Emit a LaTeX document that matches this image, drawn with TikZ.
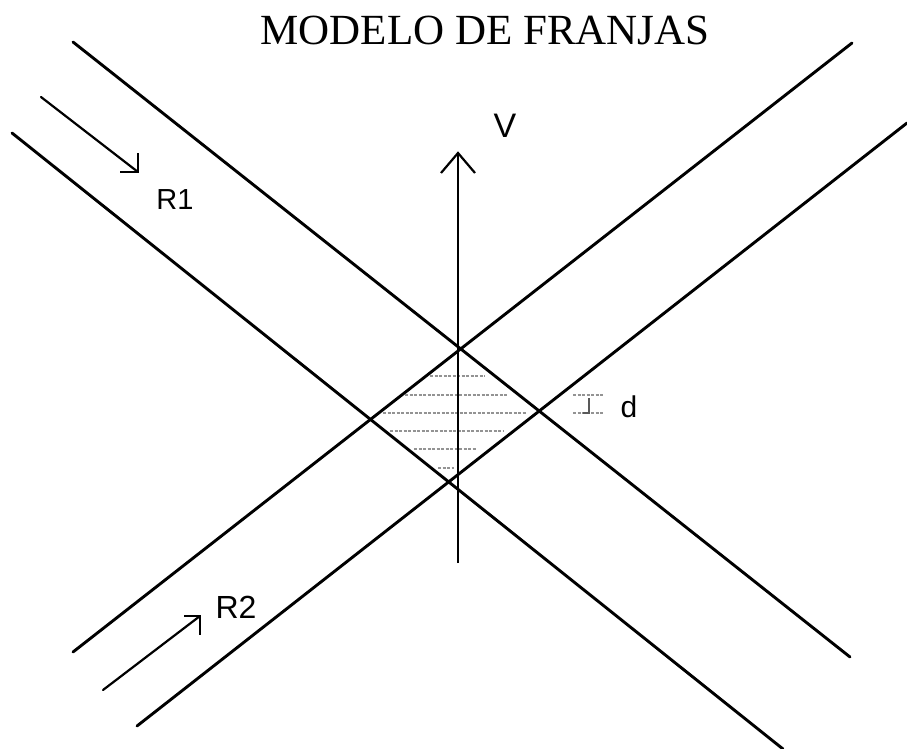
\documentclass[tikz,border=0pt]{standalone}
\usepackage{fontspec}
\setmainfont{Liberation Serif}
\newfontfamily\labfont{Liberation Sans}
\begin{document}
\begin{tikzpicture}[x=1pt,y=-1pt,
  band/.style={line width=2.9pt, line cap=round},
  axisline/.style={line width=2.2pt},
  hatch/.style={gray!85, line width=1.3pt, dash pattern=on 3pt off 1.5pt},
  lab/.style={font=\labfont\fontsize{30}{30}\selectfont, inner sep=0pt, anchor=base}]
\useasboundingbox (0,0) rectangle (907,749);
% title
\node[font=\fontsize{43}{43}\selectfont, inner sep=0pt, anchor=base] (title) at (485,45) {MODELO DE FRANJAS};
% band R1 (descending)
\coordinate (A1) at (73,42);  \coordinate (A2) at (850,657);
\coordinate (B1) at (12,133); \coordinate (B2) at (783,749);
% band R2 (ascending)
\coordinate (C1) at (73,652); \coordinate (C2) at (852,43);
\coordinate (D1) at (137,726); \coordinate (D2) at (907,123);
\draw[band] (A1) -- (A2);
\draw[band] (B1) -- (B2);
\draw[band] (C1) -- (C2);
\draw[band] (D1) -- (D2);
% hatching in the diamond
\draw[hatch] (430,376) -- (485,376);
\draw[hatch] (405,395) -- (508,395);
\draw[hatch] (383,413) -- (527,413);
\draw[hatch] (390,431) -- (503,431);
\draw[hatch] (414,449) -- (477,449);
\draw[hatch] (438,468) -- (454,468);
% axis V
\coordinate (V0) at (458,563); \coordinate (Vt) at (458,153);
\coordinate (Vl) at (441,173); \coordinate (Vr) at (475,173);
\draw[axisline] (V0) -- (Vt);
\draw[axisline, line join=miter] (Vl) -- (Vt) -- (Vr);
\node[lab, font=\labfont\fontsize{34}{34}\selectfont] (V) at (505,137) {V};
% arrow R1
\coordinate (r1s) at (41,97); \coordinate (r1t) at (138,172);
\coordinate (r1a) at (138,153); \coordinate (r1b) at (120,172);
\draw[axisline, line cap=round] (r1s) -- (r1t);
\draw[axisline] (r1a) -- (r1t) -- (r1b);
\node[lab, font=\labfont\fontsize{29}{29}\selectfont] (R1) at (175,209) {R1};
% arrow R2
\coordinate (r2s) at (103,690); \coordinate (r2t) at (200,616);
\coordinate (r2a) at (184,616); \coordinate (r2b) at (200,635);
\draw[axisline, line cap=round] (r2s) -- (r2t);
\draw[axisline] (r2a) -- (r2t) -- (r2b);
\node[lab, font=\labfont\fontsize{32}{32}\selectfont] (R2) at (236,618) {R2};
% d marker
\draw[hatch] (573,395) -- (603,395);
\draw[hatch] (573,413) -- (603,413);
\draw[gray!70!black, line width=1.5pt] (589,398) -- (589,413) -- (583,413);
\node[lab] (d) at (629,417) {d};
\end{tikzpicture}
\end{document}
